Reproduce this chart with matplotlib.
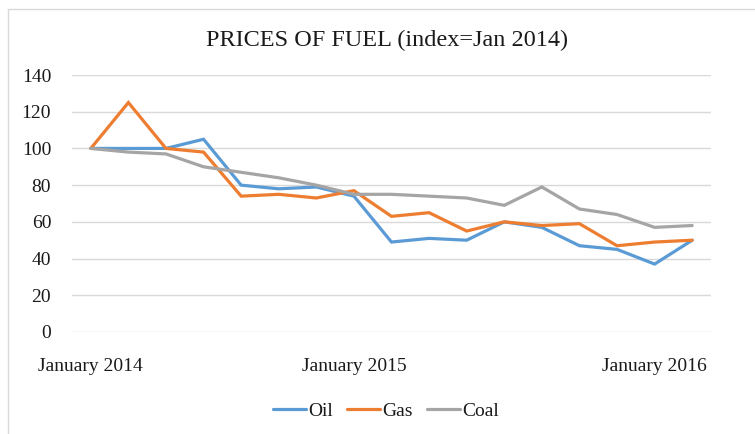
import matplotlib.pyplot as plt
from matplotlib.patches import Rectangle

plt.rcParams['font.family'] = ['Liberation Serif', 'DejaVu Serif']

# monthly-ish observations, Jan 2014 .. early 2016 (index = Jan 2014)
tick_pos = [0, 7, 15]
tick_labels = ['January 2014', 'January 2015', 'January 2016']

oil = [100, 100, 100, 105, 80, 78, 79, 74, 49, 51, 50, 60, 57, 47, 45, 37, 50]
gas = [100, 125, 100, 98, 74, 75, 73, 77, 63, 65, 55, 60, 58, 59, 47, 49, 50]
coal = [100, 98, 97, 90, 87, 84, 80, 75, 75, 74, 73, 69, 79, 67, 64, 57, 58]

series = [('Oil', oil, '#5B9BD5'), ('Gas', gas, '#ED7D31'), ('Coal', coal, '#A5A5A5')]

W, H = 755, 434
fig = plt.figure(figsize=(W / 100, H / 100), dpi=100)
ax = fig.add_axes([72 / W, 1 - 332 / H, (711 - 72) / W, (332 - 75) / H])

x = list(range(len(oil)))
for name, vals, col in series:
    ax.plot(x, vals, color=col, lw=2.3, label=name, solid_capstyle='round', solid_joinstyle='miter')

ax.set_xlim(-0.5, len(oil) - 0.5)
ax.set_ylim(0, 140)
ax.set_yticks(range(0, 141, 20))
ax.set_xticks(tick_pos)
ax.set_xticklabels(tick_labels)
ax.tick_params(length=0, labelsize=14, colors='#1a1a1a')
ax.tick_params(axis='x', pad=19)
ax.tick_params(axis='y', pad=15)
ax.grid(axis='y', color='#D9D9D9', lw=1)
ax.set_axisbelow(True)
for s in ax.spines.values():
    s.set_visible(False)

fig.text(387 / W, 1 - 40 / H, 'PRICES OF FUEL (index=Jan 2014)', ha='center', va='center',
         fontsize=17.5, color='#1a1a1a')

fig.legend(loc='center', bbox_to_anchor=(386 / W, 1 - 411 / H), ncol=3, frameon=False,
           fontsize=14, handlelength=1.7, handletextpad=0.1, columnspacing=0.75,
           labelcolor='#1a1a1a')

fig.patches.append(Rectangle((8 / W, -0.1), 2, 1.1 - 9 / H, transform=fig.transFigure,
                             fill=False, edgecolor='#D9D9D9', lw=1))

fig.savefig('out.png', dpi=100)
